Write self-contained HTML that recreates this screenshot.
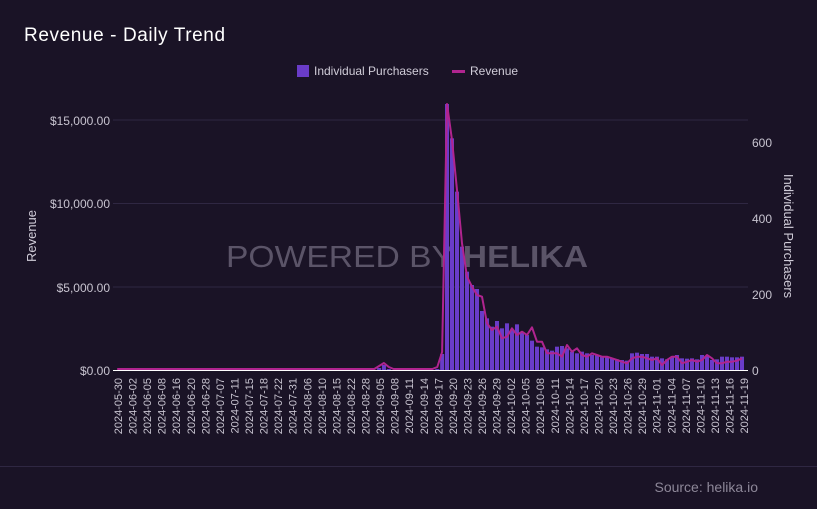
<!DOCTYPE html>
<html><head><meta charset="utf-8"><style>
body{margin:0;background:#1a1326;}
svg{display:block;font-family:"Liberation Sans",sans-serif;}
</style></head><body>
<svg id="s" width="817" height="509" viewBox="0 0 817 509">
<rect width="817" height="509" fill="#1a1326"/>
<text x="24" y="41" fill="#ffffff" font-size="19" letter-spacing="0.6">Revenue - Daily Trend</text>
<rect x="297" y="65" width="12" height="12" fill="#6a3cc8"/>
<text x="314" y="75" fill="#d0ccd8" font-size="12">Individual Purchasers</text>
<rect x="452" y="70" width="13" height="3" fill="#b0248f"/>
<text x="470" y="75" fill="#d0ccd8" font-size="12">Revenue</text>
<g stroke="#2f2742" stroke-width="1">
<line x1="113" y1="120" x2="748" y2="120"/>
<line x1="113" y1="203.5" x2="748" y2="203.5"/>
<line x1="113" y1="287" x2="748" y2="287"/>
</g>
<g fill="#c8c4d0" font-size="12" text-anchor="end">
<text x="110" y="125">$15,000.00</text>
<text x="110" y="208">$10,000.00</text>
<text x="110" y="292">$5,000.00</text>
<text x="110" y="375">$0.00</text>
</g>
<g fill="#c8c4d0" font-size="12" text-anchor="start">
<text x="752" y="147">600</text>
<text x="752" y="223">400</text>
<text x="752" y="299">200</text>
<text x="752" y="375">0</text>
</g>
<text transform="translate(36,236) rotate(-90)" fill="#d0ccd8" font-size="13" text-anchor="middle">Revenue</text>
<text transform="translate(784,236) rotate(90)" fill="#d0ccd8" font-size="13" text-anchor="middle">Individual Purchasers</text>
<text x="226" y="267" fill="#5b5468" font-size="31" textLength="362" lengthAdjust="spacingAndGlyphs">POWERED BY <tspan font-weight="bold">HELIKA</tspan></text>
<g id="bars" fill="#6a3cc8"></g>
<line x1="113" y1="370.5" x2="748" y2="370.5" stroke="#ffffff" stroke-width="1"/>
<polyline id="ln" fill="none" stroke="#b0248f" stroke-width="2" stroke-linejoin="round"/>
<g id="xl" fill="#c8c4d0" font-size="11"></g>
<line x1="0" y1="466.5" x2="817" y2="466.5" stroke="#2f2742"/>
<text x="758" y="492" fill="#8d8798" font-size="14" text-anchor="end">Source: helika.io</text>
</svg>
<script>
var NS="http://www.w3.org/2000/svg";
var labels=["05-30","06-02","06-05","06-08","06-16","06-20","06-28","07-07","07-11","07-15","07-18","07-22","07-31","08-06","08-10","08-15","08-22","08-28","09-05","09-08","09-11","09-14","09-17","09-20","09-23","09-26","09-29","10-02","10-05","10-08","10-11","10-14","10-17","10-20","10-23","10-26","10-29","11-01","11-04","11-07","11-10","11-13","11-16","11-19"];
var xl=document.getElementById("xl");
labels.forEach(function(l,i){var x=118+i*14.56;var t=document.createElementNS(NS,"text");
t.setAttribute("transform","translate("+(x+4)+",378) rotate(-90)");t.setAttribute("text-anchor","end");t.textContent="2024-"+l;xl.appendChild(t);});
var bz=[42,145,305,470,545,585,597,663,685,710,693,715,700,720,703,725,735,752,770,772,778,782,770,768,775,785,790,785,790,795,795,800,800,805,808,810,812,790,788,792,792,800,800,805,808,800,795,805,806,805,808,795,798,810,808,800,800,802,802,800];
var lz=[42,150,300,460,560,590,615,620,700,720,710,745,740,715,735,725,735,712,755,755,790,790,790,800,765,785,775,795,800,790,795,800,800,805,810,815,820,805,800,800,805,810,805,825,810,800,800,820,815,810,815,810,795,805,820,820,815,815,812,805];
var step=5.0,x0=447,pstep=4.85;
var bars=document.getElementById("bars");
function bar(x,y){if(y>=370)return;var r=document.createElementNS(NS,"rect");r.setAttribute("x",x-2);r.setAttribute("y",y);r.setAttribute("width",4);r.setAttribute("height",370-y);bars.appendChild(r);}
var pts=[];
var pre=Math.round((x0-118)/pstep);
for(var k=pre;k>=1;k--){var x=x0-k*pstep;var y=369;
 if(Math.abs(x-383)<3)y=363; else if(Math.abs(x-378)<3)y=366; else if(Math.abs(x-388)<3)y=367;
 if(k==1)y=352; if(k==2)y=367;
 pts.push(x.toFixed(1)+","+y);
 if(y<368)bar(x,y+2); else if(k%9==0)bar(x,368);}
for(var i=0;i<bz.length;i++){var x=x0+i*step;bar(x,90+bz[i]/3);pts.push(x.toFixed(1)+","+(90+lz[i]/3).toFixed(1));}
document.getElementById("ln").setAttribute("points",pts.join(" "));
</script>
</body></html>
